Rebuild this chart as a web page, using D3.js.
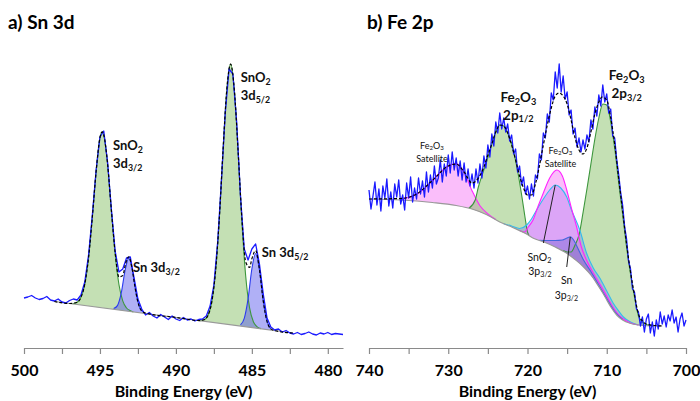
<!DOCTYPE html>
<html><head><meta charset="utf-8">
<script src="https://cdn.jsdelivr.net/npm/d3@7"></script>
<style>body{margin:0;background:#fff}svg{display:block}</style>
</head><body>
<svg id="c" width="700" height="401"></svg>
<script>
// ---------------- DATA: panel a) Sn 3d ----------------
const snTickLabels = [500, 495, 490, 485, 480];
const snMinorTicks = [500, 497.5, 495, 492.5, 490, 487.5, 485, 482.5, 480];
const snBackground = [[498.0, 4.65], [482.3, 1.5]];
const snO2_3d32 = [[496.8,4.43],[496.5,4.58],[496.25,5.07],[496.0,6.38],[495.75,9.04],[495.5,13.12],[495.25,17.7],[495.0,21.03],[494.85,21.62],[494.75,21.3],[494.5,18.45],[494.25,13.8],[494.0,9.41],[493.75,6.35],[493.5,4.71],[493.25,4.0],[493.0,3.73],[492.8,3.61]];
const sn_3d32 = [[494.1,3.94],[493.85,4.24],[493.6,5.48],[493.35,7.72],[493.1,8.99],[492.85,7.62],[492.6,5.28],[492.35,3.94],[492.1,3.54]];
const snO2_3d52 = [[488.4,2.74],[488.15,2.82],[487.9,3.23],[487.65,4.52],[487.4,7.5],[487.15,12.75],[486.9,19.7],[486.65,25.85],[486.4,28.4],[486.15,25.75],[485.9,19.5],[485.65,12.45],[485.4,7.1],[485.15,4.02],[484.9,2.63],[484.65,2.12],[484.4,1.94]];
const sn_3d52 = [[485.75,2.31],[485.5,2.96],[485.25,4.91],[485.0,7.9],[484.75,9.45],[484.5,7.8],[484.25,4.71],[484.0,2.66],[483.75,1.91]];
const snEnvelope = [[498.0,4.65],[497.0,4.45],[496.5,4.58],[496.25,5.07],[496.0,6.38],[495.75,9.04],[495.5,13.12],[495.25,17.7],[495.0,21.03],[494.85,21.62],[494.75,21.3],[494.5,18.45],[494.25,13.8],[494.0,9.54],[493.75,7.11],[493.5,7.25],[493.3,8.5],[493.1,9.12],[492.9,8.1],[492.7,6.15],[492.5,4.59],[492.3,3.81],[492.0,3.49],[490.0,3.06],[488.4,2.74],[488.15,2.82],[487.9,3.23],[487.65,4.52],[487.4,7.5],[487.15,12.75],[486.9,19.7],[486.65,25.85],[486.4,28.4],[486.15,25.75],[485.9,19.55],[485.65,12.8],[485.4,8.57],[485.15,8.06],[485.0,8.92],[484.75,9.74],[484.5,7.85],[484.25,4.71],[484.0,2.66],[483.75,1.91],[483.5,1.74],[482.3,1.5]];
const snRawStart = 500, snRawStep = -0.25;
const snRaw = [5.0,5.1,5.25,5.0,4.85,4.95,5.15,4.8, 4.7,4.9,4.6,4.5,4.75,4.9,4.8,5.3,
  6.6,9.3,13.3,17.8,21.1,21.7,18.6,13.9, 9.7,7.6,7.9,9.0,9.1,7.0,4.9,3.9,
  3.3,3.55,3.2,3.0,3.35,3.1,2.85,3.2, 2.9,2.75,3.05,2.8,2.9,2.7,2.85,2.9,
  3.2,4.2,6.3,10.6,16.8,23.5,27.9,27.4, 22.6,15.2,9.9,8.8,9.9,10.4,8.4,5.4,
  3.0,2.1,1.8,1.9,1.6,1.75,1.5,1.4, 1.55,1.35,1.45,1.6,1.4,1.3,1.5,1.4,
  1.55,1.35,1.45,1.4,1.35];

// ---------------- DATA: panel b) Fe 2p ----------------
const feTickLabels = [740, 730, 720, 710, 700];
const feMinorTicks = [740, 735, 730, 725, 720, 715, 710, 705, 700];
const feBackground = [[740,14.9],[736,14.8],[732,14.55],[729,14.25],[727,13.9],[725.2,13.35],[723.5,12.6],[722,12.1],[720,11.35],[719.26,10.97],[718,10.63],[716.5,10.1],[715.05,9.47],[714,8.85],[712.95,8.13],[712,7.3],[711.27,6.47],[710.5,5.5],[710,4.8],[709.4,4.0],[708.75,3.3],[708,2.8],[707.07,2.47],[706,2.3],[704,2.2],[703,2.2]];
const feSatellite1 = [[736.0,14.95],[735.0,15.07],[734.0,15.4],[733.0,15.96],[732.0,16.75],[731.0,17.58],[730.0,18.23],[729.0,18.45],[728.0,17.55],[727.0,15.73],[726.0,14.22],[725.0,13.41],[724.0,12.85]];
const fe2p12 = [[727.4,13.97],[726.6,14.8],[726.2,16.1],[725.6,17.6],[725.1,18.8],[724.5,20.4],[724.0,21.6],[723.5,22.3],[723.0,22.2],[722.4,21.3],[721.8,19.8],[721.2,17.5],[720.7,15.1],[720.3,13.0],[720.0,11.6],[719.8,11.25]];
const feSatellite2 = [[721.0,11.75],[720.4,11.6],[719.9,12.1],[719.3,12.8],[718.7,14.1],[718.0,15.5],[717.2,17.0],[716.3,17.8],[715.6,17.2],[715.05,15.8],[714.4,13.8],[713.8,12.1],[713.2,10.1],[712.5,8.7],[711.7,7.5],[710.8,6.3],[710.0,5.2],[709.3,4.2],[708.7,3.5],[708.0,2.95],[707.0,2.5],[706.0,2.3]];
const snO2_3p32 = [[723.0,12.43],[722.0,12.2],[721.0,11.95],[720.1,12.3],[719.5,12.9],[718.85,13.8],[718.0,14.9],[717.2,15.8],[716.5,16.3],[715.8,16.0],[715.05,15.1],[714.45,13.8],[713.4,11.8],[712.55,9.5],[711.7,8.0],[710.8,6.9],[710.0,5.7],[709.2,4.5],[708.5,3.7],[707.9,3.1],[707.0,2.6],[706.0,2.3]];
const sn_3p32 = [[718.5,10.77],[717.5,10.75],[716.5,10.75],[715.6,10.8],[715.0,11.0],[714.6,11.13],[714.1,10.7],[713.6,9.9],[713.0,8.9],[712.0,7.65],[711.0,6.3],[710.0,4.95],[709.0,3.65],[708.0,2.85]];
const fe2p32 = [[715.5,9.75],[715.0,9.6],[714.5,9.6],[714.0,10.3],[713.5,11.3],[713.0,13.5],[712.5,15.9],[712.0,18.4],[711.5,20.9],[711.0,23.0],[710.5,24.4],[710.0,24.3],[709.5,22.6],[709.0,20.0],[708.5,16.6],[708.0,13.4],[707.5,10.1],[707.0,7.4],[706.5,5.1],[706.0,3.2],[705.5,2.6],[705.0,2.35],[704.5,2.25],[704.0,2.2]];
const feEnvelope = [[740,14.9],[736,14.95],[734,15.4],[732,16.75],[730,18.2],[729,18.4],[728,17.6],[727,16.5],[726.2,17.0],[725.5,18.1],[725,19.3],[724.5,20.4],[724,21.6],[723.5,22.3],[723,22.2],[722.5,21.5],[722,20.3],[721.5,18.8],[721,17.2],[720.5,16.0],[720,15.3],[719.5,15.3],[719,16.4],[718.5,18.2],[718,20.3],[717.5,22.3],[717,24.0],[716.5,25.2],[716,25.5],[715.5,25.2],[715,24.4],[714.5,22.8],[714,21.0],[713.5,19.8],[713,19.4],[712.5,20.0],[712,21.6],[711.5,23.4],[711,24.6],[710.6,25.1],[710,24.8],[709.5,23.0],[709,20.4],[708.5,17.0],[708,13.7],[707.5,10.4],[707,7.6],[706.5,5.3],[706,3.4],[705.5,2.7],[705,2.4],[704,2.25],[703,2.2]];
const feRawStart = 740, feRawStep = -0.25;
const feRaw = [15.8,13.9,15.2,16.6,14.3,15.9,13.7,16.2,
  15.0,16.9,14.2,15.6,14.0,16.4,15.1,16.8,
  14.4,15.3,13.8,16.5,15.0,17.1,14.6,16.0,
  14.9,17.0,15.4,16.7,15.1,17.6,15.6,17.3,
  16.0,18.2,16.4,17.0,18.8,16.6,18.4,17.2,
  19.3,17.5,19.6,17.8,19.0,17.2,18.7,16.8,
  18.5,16.6,17.9,16.2,17.4,16.0,17.9,16.5,
  18.4,17.0,19.2,18.0,20.3,19.1,21.4,20.2,
  22.6,21.5,23.5,21.9,23.0,21.6,22.4,20.7,
  21.3,19.4,19.9,17.6,18.2,16.3,17.1,15.4,
  16.2,14.9,16.4,15.2,17.3,16.9,19.4,18.8,
  21.5,21.0,23.4,22.6,25.5,24.8,27.6,26.0,
  28.4,25.6,27.2,24.9,25.6,23.3,23.8,21.4,
  22.0,20.1,21.0,19.6,20.8,19.9,21.3,20.6,
  22.8,21.9,24.1,23.2,25.3,24.2,26.3,24.6,
  25.4,23.5,23.9,21.2,21.0,18.9,17.4,15.6,
  14.3,12.2,10.9,8.7,7.9,5.9,5.6,3.9,
  3.6,2.2,3.1,1.6,2.9,3.4,1.5,2.6,
  1.2,2.8,1.9,3.6,2.4,3.2,2.1,3.3,
  2.7,3.8,2.5,3.1,1.6,2.9,3.5,2.2,
  2.8];

// ---------------- DRAWING ----------------
const FONT = "Lato, 'Open Sans', 'DejaVu Sans', sans-serif";
const svg = d3.select("#c");
const y = d3.scaleLinear().domain([0, 30]).range([348, 48]);

const GREEN = {fill: "rgb(137,193,105)", op: 0.5, stroke: "#3c963c"};
const PINK = {fill: "rgb(245,110,245)", op: 0.45, stroke: "#ff22ff"};
const BLUE = {fill: "rgb(80,80,235)", op: 0.45, stroke: "#2b3bf0"};
const CYAN = {fill: "rgb(120,140,240)", op: 0.4, stroke: "#33bbee"};
const SNB = {fill: "rgb(70,70,200)", op: 0.3, stroke: "#4466dd"};

function rich(g, x, yy, parts, size, weight, anchor) {
  const t = g.append("text").attr("x", x).attr("y", yy)
    .attr("font-family", FONT).attr("font-size", size).attr("font-weight", weight)
    .attr("fill", "#111").attr("text-anchor", anchor || "start");
  let shifted = false;
  parts.forEach(p => {
    if (Array.isArray(p)) {
      const ts = t.append("tspan").text(p[0]).attr("font-size", size * 0.68);
      if (!shifted) ts.attr("dy", size * 0.2);
      shifted = true;
    } else {
      const ts = t.append("tspan").text(p);
      if (shifted) ts.attr("dy", -size * 0.2);
      shifted = false;
    }
  });
  return t;
}

function panel(cfg) {
  const x = d3.scaleLinear().domain(cfg.xDomain).range(cfg.xRange);
  const g = svg.append("g");
  const bgScale = d3.scaleLinear().domain(cfg.bg.map(d => d[0])).range(cfg.bg.map(d => d[1])).clamp(true);

  const area = d3.area().x(d => x(d[0])).y0(d => y(bgScale(d[0]))).y1(d => y(d[1])).curve(d3.curveMonotoneX);
  const line = d3.line().x(d => x(d[0])).y(d => y(d[1])).curve(d3.curveMonotoneX);

  cfg.comps.forEach(c => {
    g.append("path").attr("d", area(c.data)).attr("fill", c.style.fill).attr("fill-opacity", c.style.op);
  });
  cfg.comps.forEach(c => {
    g.append("path").attr("d", line(c.data)).attr("fill", "none").attr("stroke", c.style.stroke).attr("stroke-width", 1.1);
  });
  g.append("path").attr("d", d3.line().x(d => x(d[0])).y(d => y(d[1])).curve(d3.curveMonotoneX)(cfg.bg))
    .attr("fill", "none").attr("stroke", "#999").attr("stroke-width", 1.2);

  const raw = cfg.raw.values.map((v, i) => [cfg.raw.start + i * cfg.raw.step, v]);
  g.append("path").attr("d", d3.line().x(d => x(d[0])).y(d => y(d[1]))(raw))
    .attr("fill", "none").attr("stroke", "#1a1aff").attr("stroke-width", 1.3).attr("stroke-linejoin", "round");
  g.append("path").attr("d", line(cfg.envelope)).attr("fill", "none").attr("stroke", "#000")
    .attr("stroke-width", 1.2).attr("stroke-dasharray", "3,2");

  // axis
  const ax = g.append("g").attr("transform", "translate(0,348)")
    .call(d3.axisBottom(x).tickValues(cfg.minor)
      .tickFormat(d => cfg.labels.includes(d) ? d : "").tickSize(6).tickSizeOuter(0));
  ax.select(".domain").attr("stroke", "#8a8a8a").attr("stroke-width", 1.2);
  ax.selectAll(".tick line").attr("stroke", "#8a8a8a").attr("stroke-width", 1.2);
  ax.selectAll(".tick text").attr("y", 28).attr("dy", null)
    .attr("font-family", FONT).attr("font-size", 16).attr("font-weight", "bold").attr("fill", "#000");
  g.append("text").attr("x", (cfg.xRange[0] + cfg.xRange[1]) / 2).attr("y", 397)
    .attr("text-anchor", "middle").attr("font-family", FONT).attr("font-size", 16)
    .attr("font-weight", "bold").text("Binding Energy (eV)");
  g.append("text").attr("x", cfg.titleX).attr("y", 29).attr("font-family", FONT)
    .attr("font-size", 19).attr("font-weight", "bold").text(cfg.title);

  cfg.annot(g, x);
}

panel({
  xDomain: [500, 479], xRange: [24, 343],
  minor: snMinorTicks, labels: snTickLabels,
  bg: snBackground,
  comps: [
    {data: snO2_3d32, style: GREEN},
    {data: snO2_3d52, style: GREEN},
    {data: sn_3d32, style: BLUE},
    {data: sn_3d52, style: BLUE}
  ],
  envelope: snEnvelope,
  raw: {start: snRawStart, step: snRawStep, values: snRaw},
  title: "a) Sn 3d", titleX: 8,
  annot: (g, x) => {
    rich(g, x(494.14), y(19.8), ["SnO", ["2"]], 13, "bold");
    rich(g, x(494.14), y(18.0), ["3d", ["3/2"]], 13, "bold");
    rich(g, x(485.73), y(26.6), ["SnO", ["2"]], 13, "bold");
    rich(g, x(485.73), y(24.8), ["3d", ["5/2"]], 13, "bold");
    rich(g, x(492.82), y(7.6), ["Sn 3d", ["3/2"]], 13, "bold");
    rich(g, x(484.35), y(9.1), ["Sn 3d", ["5/2"]], 13, "bold");
  }
});

panel({
  xDomain: [740, 700], xRange: [369, 686],
  minor: feMinorTicks, labels: feTickLabels,
  bg: feBackground,
  comps: [
    {data: feSatellite1, style: PINK},
    {data: fe2p12, style: GREEN},
    {data: fe2p32, style: GREEN},
    {data: snO2_3p32, style: CYAN},
    {data: feSatellite2, style: PINK},
    {data: sn_3p32, style: SNB}
  ],
  envelope: feEnvelope,
  raw: {start: feRawStart, step: feRawStep, values: feRaw},
  title: "b) Fe 2p", titleX: 367,
  annot: (g, x) => {
    rich(g, x(721.16), y(24.6), ["Fe", ["2"], "O", ["3"]], 13.5, "bold", "middle");
    rich(g, x(721.16), y(22.85), ["2p", ["1/2"]], 13.5, "bold", "middle");
    rich(g, x(707.48), y(26.8), ["Fe", ["2"], "O", ["3"]], 13.5, "bold", "middle");
    rich(g, x(707.48), y(25.0), ["2p", ["3/2"]], 13.5, "bold", "middle");
    rich(g, x(732.05), y(19.95), ["Fe", ["2"], "O", ["3"]], 9, "normal", "middle");
    rich(g, x(732.05), y(18.65), ["Satellite"], 9, "normal", "middle");
    rich(g, x(715.84), y(19.45), ["Fe", ["2"], "O", ["3"]], 9, "normal", "middle");
    rich(g, x(715.84), y(18.15), ["Satellite"], 9, "normal", "middle");
    rich(g, x(718.5), y(8.75), ["SnO", ["2"]], 10.5, "normal", "middle");
    rich(g, x(718.42), y(7.3), ["3p", ["3/2"]], 10.5, "normal", "middle");
    rich(g, x(715.05), y(6.45), ["Sn"], 10.5, "normal", "middle");
    rich(g, x(715.08), y(4.95), ["3p", ["3/2"]], 10.5, "normal", "middle");
    g.append("line").attr("x1", x(716.5)).attr("y1", y(16.3)).attr("x2", x(718.0)).attr("y2", y(10.5))
      .attr("stroke", "#222").attr("stroke-width", 1);
    g.append("line").attr("x1", x(714.6)).attr("y1", y(11.1)).attr("x2", x(715.05)).attr("y2", y(8.1))
      .attr("stroke", "#222").attr("stroke-width", 1);
  }
});
</script>
</body></html>
